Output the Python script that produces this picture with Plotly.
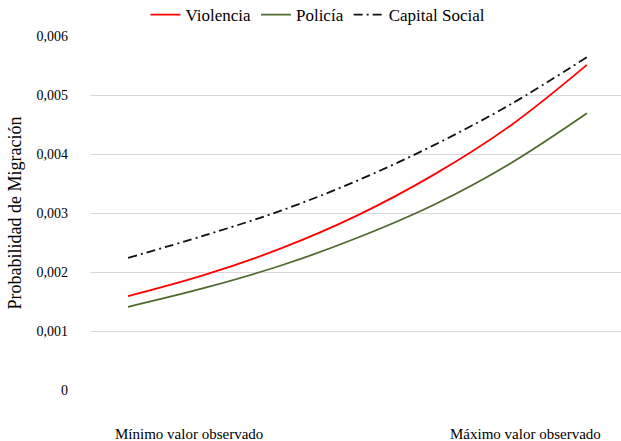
import plotly.graph_objects as go

# Data
categories = [1, 2, 3, 4, 5, 6, 7]
violencia = [0.00159, 0.00195, 0.00240, 0.00296, 0.00365, 0.00448, 0.00551]
policia = [0.00141, 0.00173, 0.00211, 0.00258, 0.00314, 0.00384, 0.00469]
capital_social = [0.00224, 0.00262, 0.00304, 0.00355, 0.00415, 0.00484, 0.00564]

y_ticks = [0, 0.001, 0.002, 0.003, 0.004, 0.005, 0.006]
y_tick_labels = ["0", "0,001", "0,002", "0,003", "0,004", "0,005", "0,006"]
x_labels = ["Mínimo valor observado", "Máximo valor observado"]
x_label_pos = [1.8, 6.2]

FONT = "Times New Roman"

fig = go.Figure()
fig.add_trace(go.Scatter(x=categories, y=violencia, name="Violencia", mode="lines",
                         line=dict(color="#FF0000", width=1.8, shape="spline")))
fig.add_trace(go.Scatter(x=categories, y=policia, name="Policía", mode="lines",
                         line=dict(color="#4F6A2E", width=1.8, shape="spline")))
fig.add_trace(go.Scatter(x=categories, y=capital_social, name="Capital Social", mode="lines",
                         line=dict(color="#111111", width=1.8, shape="spline", dash="9px,4px,2px,4px")))

for lab, pos in zip(x_labels, x_label_pos):
    fig.add_annotation(x=pos, xref="x", y=0, yref="y", yshift=-44, text=lab, showarrow=False,
                       font=dict(family=FONT, size=15, color="#000000"), yanchor="middle")

fig.update_layout(
    width=621, height=441,
    margin=dict(l=91, r=0, t=36, b=51, autoexpand=False),
    paper_bgcolor="white", plot_bgcolor="white",
    font=dict(family=FONT, color="#000000"),
    showlegend=True,
    legend=dict(orientation="h", xref="container", yref="container", x=0.512, xanchor="center",
                y=0.966, yanchor="middle", font=dict(family=FONT, size=17, color="#000000"),
                itemwidth=30, tracegroupgap=0, bgcolor="rgba(0,0,0,0)"),
    xaxis=dict(range=[0.516, 7.446], showgrid=False, zeroline=False, showticklabels=False,
               showline=False, ticks="", automargin=False),
    yaxis=dict(range=[0, 0.006], tickvals=y_ticks, ticktext=y_tick_labels, automargin=False,
               showgrid=True, gridcolor="#D9D9D9", gridwidth=1, zeroline=False, showline=False,
               ticks="", ticklabelstandoff=22,
               tickfont=dict(family=FONT, size=14, color="#000000"),
               title=dict(text="Probabilidad de Migración", standoff=10,
                          font=dict(family=FONT, size=18, color="#000000"))),
)

fig.write_html("out.html", config={"displayModeBar": False},
               post_script="document.body.style.margin='0';document.body.style.padding='0';")
